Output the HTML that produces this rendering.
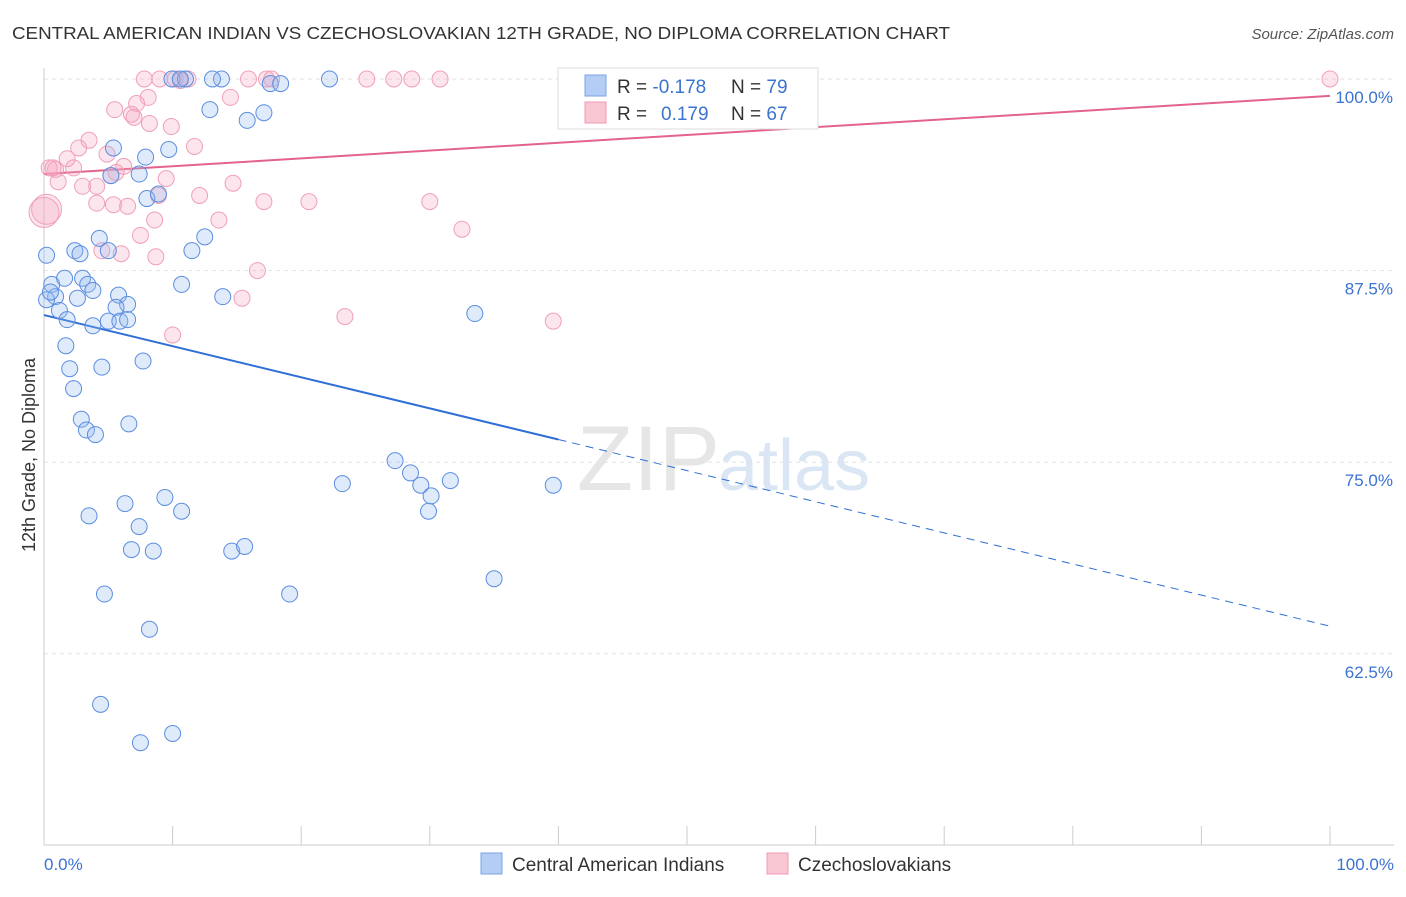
<!DOCTYPE html>
<html><head><meta charset="utf-8"><style>
body{margin:0;background:#fff;font-family:"Liberation Sans",sans-serif}
svg text{font-family:"Liberation Sans",sans-serif}
</style></head><body>
<svg id="chart" width="1406" height="892" xmlns="http://www.w3.org/2000/svg">
<text x="12" y="39" font-size="17.5" fill="#333" textLength="938" lengthAdjust="spacingAndGlyphs">CENTRAL AMERICAN INDIAN VS CZECHOSLOVAKIAN 12TH GRADE, NO DIPLOMA CORRELATION CHART</text>
<text x="1394" y="39" font-size="15" fill="#555" font-style="italic" text-anchor="end">Source: ZipAtlas.com</text>
<text x="720" y="490" font-size="92" fill="#e6e6e6" text-anchor="end" font-family="Liberation Serif">ZIP</text>
<text x="718" y="490" font-size="72" fill="#dbe6f5">atlas</text>
<g id="grid"></g><g id="axes"></g><g id="trend"></g><g id="pts"></g>
<g>
<rect x="558" y="68" width="260" height="61" fill="#fff" stroke="#ddd"/>
<rect x="585" y="75" width="21" height="21" fill="#b4cdf4" stroke="#7aa3e6"/>
<rect x="585" y="102" width="21" height="21" fill="#f9c6d4" stroke="#f09ab3"/>
<text x="617" y="93" font-size="19" fill="#333">R = <tspan fill="#3b73d1">-0.178</tspan><tspan x="731">N = </tspan><tspan fill="#3b73d1">79</tspan></text>
<text x="617" y="120" font-size="19" fill="#333">R = <tspan x="661" fill="#3b73d1">0.179</tspan><tspan x="731">N = </tspan><tspan fill="#3b73d1">67</tspan></text>
</g>
<g>
<rect x="481" y="853" width="21" height="21" fill="#b4cdf4" stroke="#7aa3e6"/>
<text x="512" y="871" font-size="19" fill="#333">Central American Indians</text>
<rect x="767" y="853" width="21" height="21" fill="#f9c6d4" stroke="#f09ab3"/>
<text x="798" y="871" font-size="19" fill="#333">Czechoslovakians</text>
</g>
<text transform="translate(35,455) rotate(-90)" font-size="18" fill="#333" text-anchor="middle">12th Grade, No Diploma</text>
</svg>
<script>
const yTicks=[100,87.5,75,62.5];
const yTickLabels=["100.0%","87.5%","75.0%","62.5%"];
const xLabels=["0.0%","100.0%"];
const blueX=[9.95,11.0,13.8,17.6,18.4,22.2,12.9,15.8,17.1,5.4,7.9,9.7,5.2,7.4,8.0,8.9,4.3,12.5,2.4,2.8,5.0,11.5,0.2,0.6,0.9,1.6,3.0,3.4,3.8,2.6,1.2,1.8,3.8,5.8,6.5,5.6,5.0,5.9,6.5,10.7,13.9,33.5,1.7,2.0,4.5,7.7,2.3,2.9,3.3,4.0,6.6,27.3,28.5,29.3,30.1,31.6,23.2,39.6,29.9,9.4,6.3,10.7,3.5,7.4,6.8,8.5,14.6,15.6,35.0,4.7,19.1,8.2,4.4,7.5,10.0,13.1,10.6,0.2,0.5];
const blueY=[100,100,100,99.7,99.7,100,98.0,97.3,97.8,95.5,94.9,95.4,93.7,93.8,92.2,92.5,89.6,89.7,88.8,88.6,88.8,88.8,88.5,86.6,85.8,87.0,87.0,86.6,86.2,85.7,84.9,84.3,83.9,85.9,85.3,85.1,84.2,84.2,84.3,86.6,85.8,84.7,82.6,81.1,81.2,81.6,79.8,77.8,77.1,76.8,77.5,75.1,74.3,73.5,72.8,73.8,73.6,73.5,71.8,72.7,72.3,71.8,71.5,70.8,69.3,69.2,69.2,69.5,67.4,66.4,66.4,64.1,59.2,56.7,57.3,100,100,85.6,86.1];
const pinkX=[7.8,9.0,10.2,11.2,15.9,17.3,17.7,25.1,27.2,28.6,30.8,100,10.6,14.5,8.1,7.2,5.5,6.8,7.0,8.2,9.9,3.5,2.7,4.9,1.8,11.7,6.2,5.6,0.4,0.9,2.3,1.1,3.0,4.1,9.5,14.7,12.1,8.9,4.1,5.4,6.5,17.1,20.6,30.0,8.6,13.6,7.5,32.5,4.5,6.0,8.7,16.6,15.4,23.4,39.6,10.0,0.2,0,5.2,0.7];
const pinkY=[100,100,100,100,100,100,100,100,100,100,100,100,99.9,98.8,98.8,98.4,98.0,97.7,97.5,97.1,96.9,96.0,95.5,95.1,94.8,95.6,94.3,93.9,94.2,94.1,94.2,93.3,93.0,93.0,93.5,93.2,92.4,92.4,91.9,91.8,91.7,92.0,92.0,92.0,90.8,90.8,89.8,90.2,88.8,88.6,88.4,87.5,85.7,84.5,84.2,83.3,91.5,91.3,93.7,94.2];
const pinkSize=pinkY.map((v,i)=>i>=56&&i<58?1:0);
const blueTrend=[84.6,64.3];
const pinkTrend=[93.8,98.9];
const blueSolidEnd=40;
const NS="http://www.w3.org/2000/svg";
const xs=v=>44+v*12.86, ys=v=>79+(100-v)*15.328;
function mk(t,a,p){const e=document.createElementNS(NS,t);for(const k in a)e.setAttribute(k,a[k]);document.getElementById(p).appendChild(e);return e;}
yTicks.forEach((t,i)=>{
 const g=mk('line',{x1:44,x2:1394,y1:ys(t),y2:ys(t),stroke:'#e2e2e2','stroke-dasharray':'4,4'},'grid');
 
 
 const l=mk('text',{x:1393,y:ys(t)+24,'font-size':17,fill:'#3b73d1','text-anchor':'end'},'axes');l.textContent=yTickLabels[i];
 
 
});
mk('line',{x1:44,x2:44,y1:68,y2:845,stroke:'#ccc'},'axes');
mk('line',{x1:44,x2:1394,y1:845,y2:845,stroke:'#ccc'},'axes');
for(let i=0;i<=10;i++){const t=mk('line',{x1:xs(i*10),x2:xs(i*10),y1:826,y2:845,stroke:'#ccc'},'axes');
 
 }
[0,100].forEach((v,i)=>{const l=mk('text',{x:i?1394:44,y:870,'font-size':17,fill:'#3b73d1','text-anchor':i?'end':'start'},'axes');l.textContent=xLabels[i];
 
 });
const bAt=x=>blueTrend[0]+(blueTrend[1]-blueTrend[0])*x/100;
let t1=mk('line',{x1:xs(0),y1:ys(bAt(0)),x2:xs(blueSolidEnd),y2:ys(bAt(blueSolidEnd)),stroke:'#2f6fd6','stroke-width':2},'trend');


let t2=mk('line',{x1:xs(blueSolidEnd),y1:ys(bAt(blueSolidEnd)),x2:xs(100),y2:ys(bAt(100)),stroke:'#2f6fd6','stroke-width':1,'stroke-dasharray':'8,6'},'trend');


let t3=mk('line',{x1:xs(0),y1:ys(pinkTrend[0]),x2:xs(100),y2:ys(pinkTrend[1]),stroke:'#e3638c','stroke-width':2},'trend');


pinkX.forEach((x,i)=>{const c=mk('circle',{cx:xs(x),cy:ys(pinkY[i]),r:pinkSize[i]?15:8,fill:'rgba(246,170,194,0.3)',stroke:'#f0a0b8','stroke-width':1},'pts');
 
 });
blueX.forEach((x,i)=>{const c=mk('circle',{cx:xs(x),cy:ys(blueY[i]),r:8,fill:'rgba(150,185,240,0.3)',stroke:'#5b8ee0','stroke-width':1},'pts');
 
 });
</script>
</body></html>
